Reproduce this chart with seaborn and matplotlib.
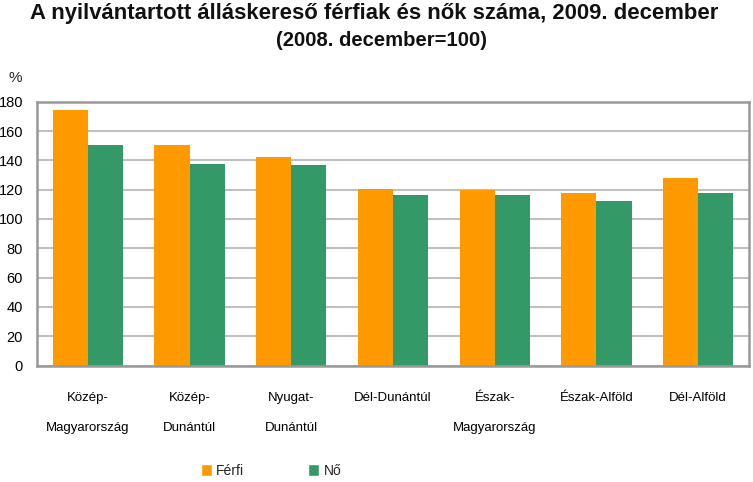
import matplotlib
matplotlib.use("Agg")
import matplotlib.pyplot as plt
import seaborn as sns
import pandas as pd
from matplotlib.patches import Patch

ORANGE = "#FF9900"
GREEN = "#339966"

regions = [
    "Közép-\nMagyarország",
    "Közép-\nDunántúl",
    "Nyugat-\nDunántúl",
    "Dél-Dunántúl",
    "Észak-\nMagyarország",
    "Észak-Alföld",
    "Dél-Alföld",
]
ferfi = [174, 150.5, 142.5, 120.5, 120, 118, 128]
no = [150.5, 137.5, 136.5, 116, 116.5, 112.5, 118]
series_names = ["Férfi", "Nő"]

sns.set_style("white")
plt.rcParams["font.family"] = ["Liberation Sans", "DejaVu Sans"]

df = pd.DataFrame({
    "region": regions * 2,
    "value": ferfi + no,
    "series": [series_names[0]] * len(regions) + [series_names[1]] * len(regions),
})

fig = plt.figure(figsize=(7.53, 4.82), dpi=100)
ax = fig.add_axes([37 / 753, 1 - 365.5 / 482, 712 / 753, 263.8 / 482])

sns.barplot(
    data=df,
    x="region",
    y="value",
    hue="series",
    palette=[ORANGE, GREEN],
    width=0.69,
    saturation=1,
    linewidth=0,
    legend=False,
    ax=ax,
)

ax.set_ylim(0, 180)
ax.set_yticks(range(0, 181, 20))
ax.yaxis.grid(True, color="#c0c0c0", linewidth=1.5)
ax.set_axisbelow(True)
for s in ax.spines.values():
    s.set_color("#999999")
    s.set_linewidth(1.8)
ax.set_xlabel("")
ax.set_ylabel("")
ax.tick_params(axis="both", length=0, labelsize=10.5, colors="black")
ax.tick_params(axis="y", pad=10)
ax.tick_params(axis="x", pad=19)
for lbl in ax.get_xticklabels():
    lbl.set_linespacing(3.0)
    lbl.set_fontsize(9.5)
    lbl.set_verticalalignment("top")

fig.text(15 / 753, 1 - 78 / 482, "%", fontsize=11, ha="center", va="center")

fig.text(374 / 753, 1 - 13 / 482,
         "A nyilvántartott álláskereső férfiak és nők száma, 2009. december",
         fontsize=15.9, fontweight="bold", ha="center", va="center", color="#111111")
fig.text(381 / 753, 1 - 41 / 482, "(2008. december=100)",
         fontsize=14.6, fontweight="bold", ha="center", va="center", color="#111111")

handles = [Patch(facecolor=ORANGE), Patch(facecolor=GREEN)]
fig.legend(handles, series_names, loc="center", bbox_to_anchor=(271 / 753, 1 - 471 / 482),
           ncol=2, frameon=False, handlelength=0.8, handleheight=0.9,
           handletextpad=0.3, columnspacing=4.6, fontsize=10)

fig.savefig("out.png", dpi=100)
